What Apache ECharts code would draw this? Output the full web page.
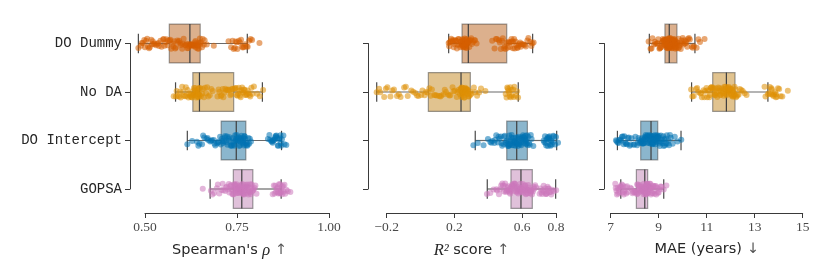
<!DOCTYPE html>
<html><head><meta charset="utf-8">
<script src="https://cdn.jsdelivr.net/npm/echarts@6/dist/echarts.min.js"></script>
<style>html,body{margin:0;padding:0;background:#fff}#c{width:830px;height:277px}</style>
</head><body><div id="c"></div>
<script>
const categories = ['DO Dummy', 'No DA', 'DO Intercept', 'GOPSA'];
const rhoTicks = [0.5, 0.75, 1.0];
const r2Ticks = [-0.2, 0.2, 0.6, 0.8];
const maeTicks = [7, 9, 11, 13, 15];

// box stats: [whiskerLow, Q1, median, Q3, whiskerHigh]
const rhoBox = [[0.482,0.566,0.622,0.650,0.778],[0.583,0.630,0.648,0.741,0.819],[0.615,0.707,0.748,0.774,0.871],[0.677,0.740,0.763,0.793,0.870]];
const r2Box = [[0.166,0.245,0.282,0.509,0.662],[-0.259,0.046,0.239,0.294,0.577],[0.323,0.509,0.568,0.631,0.804],[0.394,0.534,0.593,0.660,0.798]];
const maeBox = [[8.61,9.26,9.44,9.76,10.51],[10.37,11.25,11.82,12.18,13.55],[7.28,8.25,8.68,8.96,9.93],[7.42,8.07,8.42,8.54,9.21]];

// individual points
const rhoDummy = [0.482,0.489,0.494,0.498,0.503,0.508,0.511,0.517,0.521,0.526,0.533,0.538,0.542,0.549,0.553,0.558,0.563,0.567,0.571,0.575,0.579,0.584,0.588,0.593,0.596,0.601,0.605,0.609,0.613,0.617,0.620,0.623,0.625,0.628,0.630,0.633,0.636,0.638,0.641,0.643,0.646,0.649,0.652,0.657,0.662,0.668,0.687,0.727,0.734,0.741,0.746,0.751,0.755,0.761,0.766,0.772,0.776,0.783,0.791,0.811,
  0.491,0.500,0.506,0.513,0.519,0.524,0.530,0.536,0.545,0.551,0.556,0.561,0.569,0.577,0.582,0.590,0.598,0.603,0.611,0.615,0.619,0.624,0.627,0.631,0.634,0.637,0.640,0.644,0.647,0.651,0.655,0.660,0.738,0.744,0.749,0.758,0.764,0.769,0.779,0.787];
const rhoNoDA = [0.578,0.584,0.589,0.593,0.597,0.601,0.605,0.609,0.612,0.616,0.619,0.622,0.625,0.627,0.629,0.631,0.632,0.634,0.635,0.637,0.638,0.639,0.641,0.642,0.643,0.644,0.645,0.646,0.647,0.648,0.652,0.657,0.663,0.669,0.676,0.684,0.697,0.702,0.708,0.713,0.718,0.724,0.729,0.734,0.739,0.743,0.747,0.751,0.755,0.758,0.762,0.766,0.769,0.773,0.777,0.781,0.786,0.792,0.805,0.821,
  0.586,0.595,0.603,0.611,0.618,0.624,0.628,0.633,0.636,0.640,0.643,0.646,0.650,0.655,0.660,0.666,0.672,0.680,0.700,0.706,0.711,0.716,0.721,0.727,0.732,0.737,0.745,0.749,0.753,0.757,0.760,0.764,0.768,0.771,0.775,0.779,0.784,0.789,0.796,0.812];
const rhoInt = [0.615,0.628,0.641,0.648,0.655,0.661,0.667,0.672,0.677,0.682,0.687,0.691,0.696,0.700,0.704,0.709,0.712,0.715,0.718,0.721,0.724,0.727,0.730,0.733,0.736,0.739,0.741,0.743,0.745,0.747,0.749,0.751,0.753,0.754,0.756,0.758,0.760,0.761,0.763,0.765,0.767,0.768,0.770,0.772,0.773,0.776,0.779,0.783,0.788,0.834,0.840,0.845,0.849,0.853,0.857,0.861,0.866,0.870,0.876,0.884,
  0.645,0.658,0.670,0.680,0.689,0.698,0.706,0.711,0.717,0.723,0.729,0.735,0.740,0.744,0.748,0.752,0.755,0.759,0.762,0.766,0.769,0.771,0.775,0.778,0.781,0.785,0.838,0.843,0.847,0.851,0.855,0.859,0.863,0.868,0.872,0.879,0.847,0.856,0.862,0.869];
const rhoGopsa = [0.657,0.679,0.688,0.695,0.702,0.708,0.713,0.718,0.722,0.726,0.729,0.732,0.735,0.737,0.739,0.741,0.743,0.744,0.746,0.748,0.749,0.751,0.752,0.754,0.755,0.757,0.758,0.760,0.761,0.762,0.764,0.766,0.768,0.770,0.772,0.774,0.776,0.778,0.780,0.782,0.784,0.786,0.788,0.790,0.792,0.795,0.798,0.803,0.847,0.852,0.856,0.860,0.864,0.867,0.870,0.873,0.877,0.881,0.888,0.895,
  0.683,0.698,0.711,0.720,0.728,0.734,0.738,0.742,0.745,0.747,0.750,0.753,0.756,0.759,0.763,0.765,0.767,0.769,0.771,0.773,0.775,0.777,0.779,0.781,0.785,0.789,0.793,0.800,0.850,0.854,0.858,0.862,0.866,0.869,0.872,0.875,0.879,0.884,0.861,0.868];

const r2Dummy = [0.166,0.172,0.178,0.184,0.190,0.196,0.201,0.207,0.212,0.218,0.223,0.229,0.234,0.239,0.244,0.246,0.248,0.251,0.253,0.256,0.258,0.261,0.263,0.266,0.268,0.271,0.273,0.276,0.278,0.281,0.285,0.290,0.296,0.303,0.311,0.322,0.331,0.423,0.437,0.451,0.463,0.474,0.486,0.497,0.507,0.514,0.523,0.531,0.540,0.548,0.556,0.565,0.574,0.583,0.592,0.603,0.616,0.631,0.648,0.668,
  0.169,0.181,0.193,0.204,0.215,0.226,0.236,0.242,0.247,0.250,0.255,0.259,0.262,0.265,0.270,0.274,0.279,0.288,0.299,0.318,0.445,0.468,0.480,0.492,0.502,0.519,0.528,0.537,0.545,0.553,0.561,0.570,0.579,0.588,0.597,0.609,0.622,0.637,0.655,0.660];
const r2NoDA = [-0.259,-0.238,-0.215,-0.196,-0.178,-0.157,-0.139,-0.118,-0.097,-0.076,-0.055,-0.031,-0.012,0.011,0.032,0.052,0.067,0.081,0.096,0.110,0.123,0.137,0.150,0.163,0.176,0.189,0.202,0.214,0.225,0.236,0.241,0.244,0.248,0.251,0.255,0.258,0.262,0.265,0.269,0.272,0.276,0.279,0.283,0.287,0.292,0.301,0.315,0.334,0.357,0.383,0.503,0.512,0.519,0.526,0.533,0.540,0.547,0.554,0.563,0.576,
  -0.245,-0.205,-0.167,-0.128,-0.087,-0.044,-0.021,0.004,0.024,0.041,0.060,0.088,0.117,0.143,0.170,0.195,0.219,0.233,0.238,0.243,0.246,0.250,0.253,0.257,0.260,0.264,0.267,0.271,0.274,0.281,0.296,0.322,0.346,0.508,0.516,0.523,0.530,0.537,0.551,0.570];
const r2Int = [0.312,0.338,0.372,0.398,0.412,0.424,0.436,0.447,0.457,0.466,0.474,0.482,0.490,0.497,0.504,0.512,0.516,0.520,0.524,0.528,0.532,0.536,0.540,0.544,0.548,0.552,0.556,0.560,0.563,0.566,0.571,0.575,0.579,0.583,0.587,0.591,0.595,0.599,0.603,0.608,0.612,0.617,0.621,0.625,0.629,0.636,0.645,0.656,0.666,0.727,0.735,0.742,0.749,0.755,0.762,0.769,0.776,0.784,0.795,0.812,
  0.418,0.441,0.461,0.478,0.493,0.507,0.514,0.522,0.530,0.538,0.546,0.554,0.562,0.569,0.573,0.581,0.589,0.597,0.605,0.610,0.615,0.619,0.623,0.627,0.633,0.641,0.651,0.731,0.739,0.745,0.752,0.758,0.765,0.772,0.780,0.788,0.800,0.752,0.760,0.770];
const r2Gopsa = [0.392,0.412,0.431,0.448,0.463,0.476,0.487,0.496,0.504,0.511,0.517,0.522,0.526,0.529,0.532,0.537,0.541,0.545,0.549,0.553,0.557,0.561,0.565,0.569,0.573,0.577,0.581,0.585,0.588,0.591,0.596,0.600,0.604,0.609,0.613,0.618,0.622,0.627,0.631,0.636,0.640,0.645,0.649,0.654,0.658,0.664,0.672,0.682,0.703,0.714,0.723,0.731,0.739,0.746,0.754,0.761,0.769,0.777,0.788,0.801,
  0.452,0.470,0.483,0.492,0.500,0.508,0.514,0.520,0.528,0.535,0.543,0.551,0.559,0.567,0.575,0.583,0.590,0.598,0.606,0.611,0.616,0.620,0.625,0.629,0.634,0.638,0.643,0.647,0.652,0.656,0.668,0.677,0.708,0.718,0.727,0.735,0.743,0.750,0.758,0.772];

const maeDummy = [8.58,8.66,8.74,8.81,8.87,8.93,8.98,9.03,9.07,9.11,9.14,9.17,9.20,9.22,9.25,9.27,9.28,9.30,9.31,9.32,9.34,9.35,9.36,9.37,9.38,9.39,9.40,9.41,9.42,9.43,9.46,9.48,9.50,9.52,9.54,9.56,9.58,9.60,9.62,9.64,9.66,9.68,9.70,9.72,9.75,9.79,9.83,9.87,9.92,9.97,10.03,10.09,10.15,10.22,10.30,10.38,10.47,10.58,10.72,10.91,
  8.70,8.84,8.95,9.05,9.12,9.18,9.23,9.26,9.29,9.33,9.36,9.38,9.41,9.44,9.47,9.49,9.51,9.53,9.55,9.57,9.59,9.61,9.63,9.65,9.67,9.69,9.71,9.74,9.77,9.81,9.85,9.90,9.95,10.00,10.06,10.12,10.19,10.26,10.42,10.65];
const maeNoDA = [10.35,10.46,10.56,10.65,10.73,10.80,10.87,10.93,10.99,11.04,11.09,11.13,11.17,11.21,11.24,11.28,11.32,11.36,11.40,11.44,11.48,11.52,11.56,11.60,11.64,11.68,11.71,11.74,11.77,11.80,11.84,11.86,11.89,11.91,11.93,11.96,11.98,12.00,12.03,12.05,12.08,12.10,12.13,12.15,12.17,12.22,12.29,12.38,12.50,12.66,13.41,13.55,13.63,13.71,13.78,13.85,13.93,14.02,14.15,14.38,
  10.40,10.60,10.77,10.90,11.02,11.11,11.19,11.26,11.34,11.42,11.50,11.58,11.66,11.72,11.79,11.83,11.88,11.92,11.95,11.99,12.02,12.06,12.09,12.12,12.16,12.20,12.25,12.33,12.44,12.58,13.45,13.59,13.67,13.74,13.81,13.89,13.97,14.08,13.70,13.88];
const maeInt = [7.22,7.29,7.36,7.43,7.50,7.57,7.64,7.71,7.79,7.87,7.95,8.03,8.10,8.16,8.22,8.28,8.31,8.34,8.37,8.40,8.43,8.46,8.49,8.52,8.55,8.58,8.61,8.63,8.65,8.67,8.70,8.72,8.74,8.76,8.78,8.80,8.82,8.84,8.86,8.88,8.90,8.92,8.93,8.94,8.95,8.99,9.03,9.07,9.11,9.16,9.21,9.26,9.31,9.37,9.43,9.50,9.58,9.67,9.78,9.94,
  7.25,7.33,7.40,7.47,7.54,7.61,7.68,7.75,7.83,7.99,8.13,8.19,8.26,8.30,8.35,8.39,8.44,8.48,8.53,8.57,8.62,8.66,8.69,8.73,8.77,8.81,8.85,8.89,8.91,8.97,9.01,9.05,9.09,9.14,9.19,9.24,9.29,9.34,9.40,9.47];
const maeGopsa = [7.19,7.24,7.29,7.34,7.39,7.44,7.49,7.54,7.59,7.65,7.72,7.82,7.91,7.98,8.04,8.09,8.12,8.14,8.17,8.19,8.22,8.24,8.27,8.29,8.31,8.33,8.35,8.37,8.39,8.41,8.43,8.44,8.45,8.45,8.46,8.47,8.48,8.49,8.50,8.50,8.51,8.52,8.52,8.53,8.54,8.56,8.59,8.62,8.65,8.68,8.72,8.76,8.80,8.85,8.90,8.96,9.03,9.11,9.21,9.32,
  7.21,7.26,7.31,7.36,7.41,7.46,7.51,7.56,7.62,7.68,7.86,7.95,8.01,8.06,8.10,8.15,8.20,8.25,8.30,8.34,8.38,8.40,8.44,8.47,8.49,8.51,8.53,8.55,8.58,8.61,8.64,8.67,8.71,8.75,8.79,8.83,8.88,8.94,9.00,9.08];

const pointColors = ['#d55e00', '#de8f05', '#0173b2', '#cc78bc'];
const boxFills = ['rgba(186,97,27,0.5)', 'rgba(195,136,32,0.5)', 'rgba(23,109,156,0.5)', 'rgba(194,131,182,0.5)'];

const panels = [
  {box: rhoBox, pts: [rhoDummy, rhoNoDA, rhoInt, rhoGopsa]},
  {box: r2Box, pts: [r2Dummy, r2NoDA, r2Int, r2Gopsa]},
  {box: maeBox, pts: [maeDummy, maeNoDA, maeInt, maeGopsa]}
];

function jit(i, k) {
  const s = Math.sin(i * 127.1 + k * 311.7 + 1.3) * 43758.5453;
  return (s - Math.floor(s) - 0.5) * 0.23;
}

const chart = echarts.init(document.getElementById('c'), null, {renderer: 'canvas'});

const grids = [
  {left: 145, width: 184, top: 43.5, height: 145.5, outerBoundsMode: 'none'},
  {left: 386.7, width: 169.3, top: 43.5, height: 145.5, outerBoundsMode: 'none'},
  {left: 610.7, width: 192, top: 43.5, height: 145.5, outerBoundsMode: 'none'}
];
const yOffsets = [15, 18.7, 6.7];

const tickLabelStyle = {fontFamily: 'Liberation Serif', fontSize: 13.5, color: '#4a4a4a', margin: 7};
const lineStyle = {color: '#3a3a3a', width: 1};
const nameStyle = {
  fontFamily: 'DejaVu Sans', fontSize: 14.5, color: '#262626',
  rich: {
    i: {fontFamily: 'Liberation Serif', fontStyle: 'italic', fontSize: 16.5, color: '#262626'},
    a: {fontFamily: 'DejaVu Sans', fontSize: 14.5, color: '#555'}
  }
};

const xAxes = [
  {gridIndex: 0, type: 'value', min: 0.5, max: 1.0, interval: 0.25, offset: 24,
   axisLine: {onZero: false, lineStyle}, axisTick: {length: 5, lineStyle}, splitLine: {show: false},
   axisLabel: Object.assign({formatter: v => v.toFixed(2), customValues: rhoTicks}, tickLabelStyle),
   name: "Spearman's {i|ρ} {a|↑}", nameLocation: 'middle', nameGap: 29,
   nameTextStyle: Object.assign({padding: [0, 15, 0, 0]}, nameStyle)},
  {gridIndex: 1, type: 'value', min: -0.2, max: 0.8, offset: 24,
   axisLine: {onZero: false, lineStyle}, axisTick: {length: 5, lineStyle, customValues: r2Ticks}, splitLine: {show: false},
   axisLabel: Object.assign({customValues: r2Ticks, formatter: v => (v < 0 ? '\u2212' + Math.abs(v).toFixed(1) : v.toFixed(1))}, tickLabelStyle),
   name: '{i|R²} score {a|↑}', nameLocation: 'middle', nameGap: 29,
   nameTextStyle: Object.assign({padding: [0, 0, 0, 0]}, nameStyle)},
  {gridIndex: 2, type: 'value', min: 7, max: 15, interval: 2, offset: 24,
   axisLine: {onZero: false, lineStyle}, axisTick: {length: 5, lineStyle}, splitLine: {show: false},
   axisLabel: Object.assign({customValues: maeTicks}, tickLabelStyle),
   name: 'MAE (years) {a|↓}', nameLocation: 'middle', nameGap: 29,
   nameTextStyle: Object.assign({padding: [0, 0, 0, 0]}, nameStyle)}
];

const yAxes = [0, 1, 2].map(g => ({
  gridIndex: g, type: 'value', min: 0, max: 3, interval: 1, inverse: true, offset: yOffsets[g],
  axisLine: {show: true, onZero: false, lineStyle}, axisTick: {show: true, length: 5, lineStyle}, splitLine: {show: false},
  axisLabel: {show: g === 0, margin: 8, fontFamily: 'Liberation Mono', fontSize: 14, color: '#262626',
    formatter: v => categories[v] || ''}
}));

const series = [];
panels.forEach((p, g) => {
  series.push({
    type: 'custom', xAxisIndex: g, yAxisIndex: g, z: 1, clip: false,
    data: p.box.map((b, i) => [i].concat(b)),
    encode: {x: [1, 2, 3, 4, 5], y: 0},
    renderItem: (params, api) => {
      const ci = api.value(0);
      const lo = api.coord([api.value(1), ci]);
      const q1 = api.coord([api.value(2), ci]);
      const md = api.coord([api.value(3), ci]);
      const q3 = api.coord([api.value(4), ci]);
      const hi = api.coord([api.value(5), ci]);
      const band = api.size([0, 1])[1];
      const h = band * 0.8, cy = lo[1];
      const cap = h * 0.25;
      const wl = {stroke: '#6a6a6a', lineWidth: 1.2};
      return {type: 'group', children: [
        {type: 'line', shape: {x1: lo[0], y1: cy, x2: q1[0], y2: cy}, style: wl},
        {type: 'line', shape: {x1: q3[0], y1: cy, x2: hi[0], y2: cy}, style: wl},
        {type: 'line', shape: {x1: lo[0], y1: cy - cap, x2: lo[0], y2: cy + cap}, style: {stroke: '#4a4a4a', lineWidth: 1.2}},
        {type: 'line', shape: {x1: hi[0], y1: cy - cap, x2: hi[0], y2: cy + cap}, style: {stroke: '#4a4a4a', lineWidth: 1.2}},
        {type: 'rect', shape: {x: q1[0], y: cy - h / 2, width: q3[0] - q1[0], height: h},
         style: {fill: boxFills[ci], stroke: 'rgba(63,63,63,0.5)', lineWidth: 1.2}},
        {type: 'line', shape: {x1: md[0], y1: cy - h / 2, x2: md[0], y2: cy + h / 2}, style: {stroke: '#3f3f3f', lineWidth: 1.2}}
      ]};
    }
  });
  p.pts.forEach((vals, ci) => {
    series.push({
      type: 'scatter', xAxisIndex: g, yAxisIndex: g, z: 3, clip: false,
      symbol: 'circle', symbolSize: 6,
      itemStyle: {color: pointColors[ci], opacity: 0.55},
      silent: true, animation: false,
      data: vals.map((v, i) => [v, ci + jit(i, ci + g * 4)])
    });
  });
});

chart.setOption({
  animation: false,
  grid: grids,
  xAxis: xAxes,
  yAxis: yAxes,
  series
});
</script></body></html>
